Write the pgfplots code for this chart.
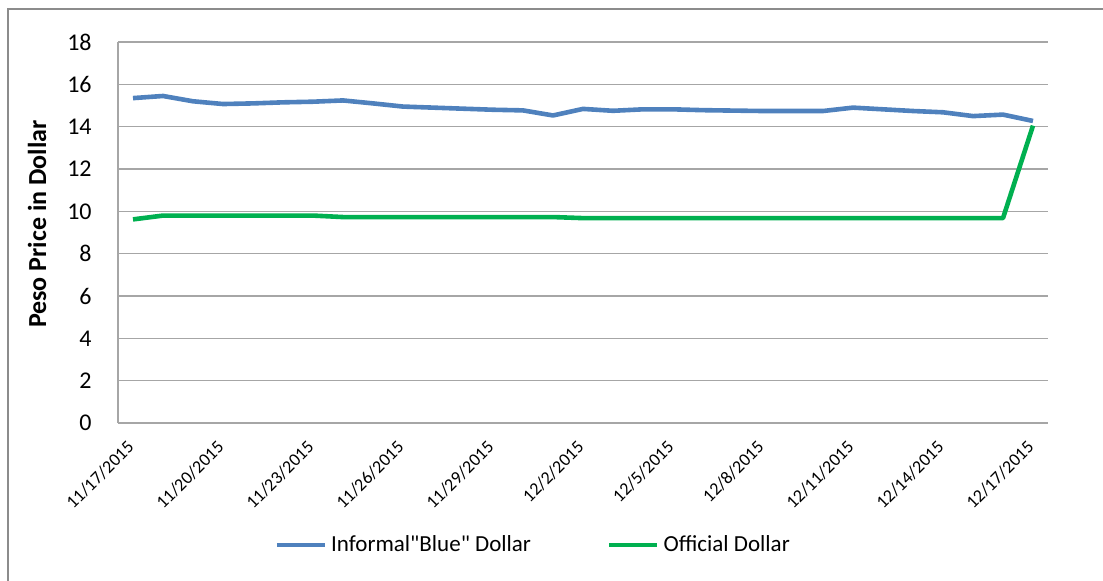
\documentclass[border=0pt]{standalone}
\usepackage{pgfplots}
\pgfplotsset{compat=1.18}
\usepackage{pgfplotstable}
\usepackage{fontspec}
\setmainfont{Carlito}
\newfontfamily\carlitoplain{Carlito}
\definecolor{blueS}{HTML}{4F81BD}
\definecolor{greenS}{HTML}{00B050}
\definecolor{gridc}{HTML}{A6A6A6}
\definecolor{framec}{HTML}{8C8C8C}
\pgfplotstableread{
d blue green
0 15.35 9.62
1 15.45 9.80
2 15.20 9.80
3 15.07 9.80
4 15.10 9.80
5 15.15 9.80
6 15.18 9.80
7 15.24 9.73
8 15.10 9.73
9 14.95 9.73
10 14.90 9.73
11 14.85 9.73
12 14.80 9.73
13 14.77 9.73
14 14.53 9.73
15 14.84 9.68
16 14.75 9.68
17 14.82 9.68
18 14.82 9.68
19 14.78 9.68
20 14.76 9.68
21 14.74 9.68
22 14.74 9.68
23 14.74 9.68
24 14.90 9.68
25 14.82 9.68
26 14.74 9.68
27 14.68 9.68
28 14.50 9.68
29 14.57 9.68
30 14.27 14.05
}\data
\begin{document}
\begin{tikzpicture}
\useasboundingbox (0,0) rectangle (551.5pt,-290pt);
\draw[framec, line width=1pt] (4pt,-300pt) -- (4pt,-4.5pt) -- (560pt,-4.5pt);
\begin{axis}[
  at={(59pt,-211.5pt)}, anchor=south west,
  scale only axis, width=465pt, height=190.5pt,
  xmin=-0.5, xmax=30.5, ymin=0, ymax=18,
  ytick={0,2,...,18}, xtick={0,3,...,30},
  xticklabels={11/17/2015,11/20/2015,11/23/2015,11/26/2015,11/29/2015,12/2/2015,12/5/2015,12/8/2015,12/11/2015,12/14/2015,12/17/2015},
  axis x line*=bottom, axis y line*=left,
  axis line style={gridc, line width=0.75pt, -},
  major tick length=0pt,
  ymajorgrids, grid style={gridc, line width=0.75pt},
  /pgf/number format/assume math mode=true,
  yticklabel style={font=\fontsize{12}{14}\selectfont, anchor=east, inner sep=0pt, xshift=-13pt},
  xticklabel style={font=\fontsize{9}{10}\selectfont, yshift=-10.5pt, xshift=-1pt, rotate=45, anchor=east, inner sep=0pt},
  ylabel={\textbf{Peso Price in Dollar}},
  ylabel style={font=\fontsize{13}{15}\selectfont, at={(axis description cs:-0.087,0.522)}, anchor=center, rotate=0},
  legend columns=2,
  legend style={draw=none, at={(axis description cs:0.4475,-0.32)}, anchor=center,
    font=\carlitoplain\fontsize{11.5}{13}\selectfont,
    /tikz/every even column/.append style={column sep=36pt},
    inner sep=0pt},
  legend image code/.code={\draw[#1] (0pt,0pt) -- (24pt,0pt);},
  legend cell align=left,
]
\addplot[blueS, line width=2.3pt, line join=round, no marks] table[x=d, y=blue] {\data};
\addlegendentry{Informal"Blue" Dollar}
\addplot[greenS, line width=2.3pt, line join=round, no marks] table[x=d, y=green] {\data};
\addlegendentry{Official Dollar}
\end{axis}
\end{tikzpicture}
\end{document}
